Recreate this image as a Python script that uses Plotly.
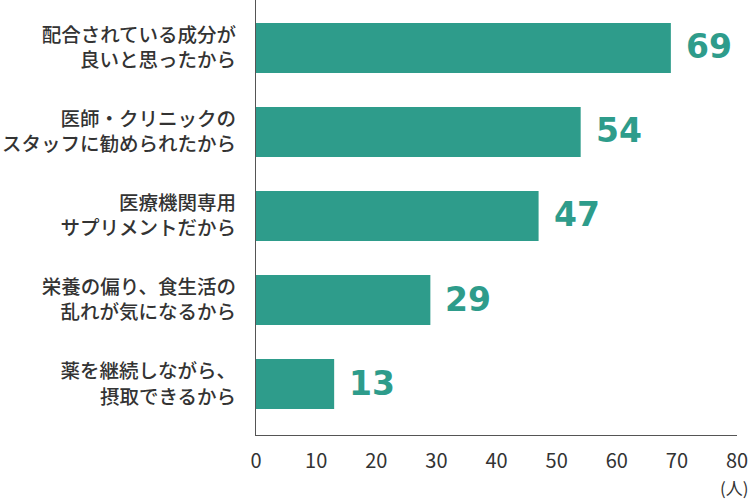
import plotly.graph_objects as go

categories = [
    "配合されている成分が<br>良いと思ったから",
    "医師・クリニックの<br>スタッフに勧められたから",
    "医療機関専用<br>サプリメントだから",
    "栄養の偏り、食生活の<br>乱れが気になるから",
    "薬を継続しながら、<br>摂取できるから",
]
values = [69, 54, 47, 29, 13]
tick_values = [0, 10, 20, 30, 40, 50, 60, 70, 80]

teal = "#2e9c8b"
text_color = "#333333"

fig = go.Figure()
fig.add_trace(go.Bar(
    x=values, y=categories, orientation="h",
    marker=dict(color=teal, line=dict(width=0)),
    width=0.595,
    hoverinfo="skip",
))

for v, c in zip(values, categories):
    fig.add_annotation(
        x=v, y=c, text=str(v), showarrow=False,
        xanchor="left", yanchor="middle", xshift=13, yshift=1,
        font=dict(family="DejaVu Sans", size=33, color=teal, weight="bold"),
    )

fig.add_annotation(
    x=1, y=0, xref="paper", yref="paper", text="(人)", showarrow=False,
    xanchor="center", yanchor="top", yshift=-38, xshift=-3,
    font=dict(family="Noto Sans CJK JP", size=17, color=text_color),
)

fig.update_layout(
    width=750, height=500,
    margin=dict(l=256, r=13, t=0, b=65),
    plot_bgcolor="white", paper_bgcolor="white",
    showlegend=False,
    font=dict(family="Noto Sans CJK JP", color=text_color, size=20),
    xaxis=dict(
        range=[0, 80], tickvals=tick_values, showgrid=False, zeroline=False,
        showline=True, linecolor="#555555", linewidth=1, automargin=False,
        ticks="", tickfont=dict(size=20, family="Noto Sans CJK JP", color=text_color),
        ticklabelstandoff=8,
    ),
    yaxis=dict(
        range=[4.607, -0.571], showgrid=False, zeroline=False,
        showline=True, linecolor="#555555", linewidth=1, automargin=False,
        ticks="", ticklabelstandoff=15,
        tickfont=dict(size=19.5, family="Noto Sans CJK JP", color=text_color, weight=500),
    ),
)

fig.write_html("out.html")
